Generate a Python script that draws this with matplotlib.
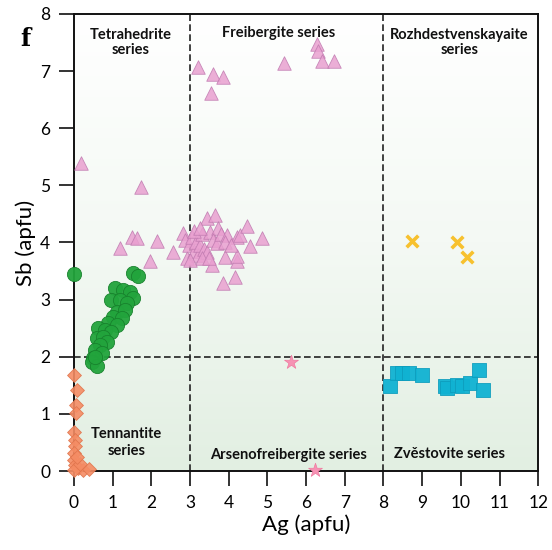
import numpy as np
import matplotlib
matplotlib.use('Agg')
import matplotlib.pyplot as plt
from matplotlib.colors import LinearSegmentedColormap

plt.rcParams['font.family'] = ['Lato', 'DejaVu Sans']

# tetrahedrite-group data (apfu)
tri_ag = [0.18, 1.73, 3.21, 3.59, 3.85, 3.54, 5.43, 6.28, 6.31, 6.41, 6.72,
          1.19, 1.49, 1.62, 2.14, 1.97, 2.57, 2.83, 2.88, 2.91, 2.97, 3.04, 3.10,
          3.15, 3.20, 3.26, 3.30, 3.35, 3.43, 3.43, 3.65, 3.52, 3.72, 3.60, 3.70,
          3.80, 3.96, 4.21, 4.29, 4.47, 4.85, 4.55, 3.90, 4.21, 4.21, 3.56, 4.16,
          3.86, 3.31, 3.00, 3.10, 3.50, 3.90, 4.05, 3.25]
tri_sb = [5.39, 4.97, 7.07, 6.95, 6.90, 6.62, 7.15, 7.48, 7.36, 7.18, 7.18,
          3.90, 4.10, 4.07, 4.02, 3.67, 3.84, 4.16, 4.05, 3.72, 3.95, 4.10, 3.85,
          4.00, 3.78, 3.96, 4.15, 3.88, 3.84, 4.43, 4.48, 4.19, 4.26, 4.05, 3.99,
          4.15, 4.13, 4.10, 4.13, 4.28, 4.08, 3.93, 3.75, 3.67, 3.77, 3.61, 3.40,
          3.29, 3.73, 3.70, 4.20, 3.72, 4.00, 3.95, 4.25]

circ_ag = [0.00, 1.53, 1.66, 1.06, 1.28, 1.45, 1.52, 0.97, 1.19, 1.36, 1.10, 1.32,
           1.02, 1.23, 0.89, 1.10, 0.63, 0.80, 0.97, 0.59, 0.76, 0.85, 0.67, 0.54,
           0.72, 0.50, 0.46, 0.59, 0.54]
circ_sb = [3.44, 3.46, 3.41, 3.20, 3.17, 3.14, 3.02, 2.99, 2.99, 2.94, 2.79, 2.82,
           2.70, 2.67, 2.59, 2.56, 2.50, 2.47, 2.44, 2.32, 2.35, 2.26, 2.21, 2.12,
           2.06, 1.97, 1.91, 1.83, 2.00]

dia_ag = [0.00, 0.07, 0.05, 0.05, 0.00, 0.03, 0.03, 0.00, 0.00, 0.03, 0.11, 0.24,
          0.40, 0.00, 0.15, 0.08]
dia_sb = [1.68, 1.42, 1.16, 1.01, 0.69, 0.54, 0.43, 0.31, 0.19, 0.11, 0.05, 0.02,
          0.04, 0.02, 0.12, 0.25]

sq_ag = [8.17, 8.34, 8.47, 8.65, 8.99, 9.59, 9.64, 9.91, 10.03, 10.24, 10.46, 10.58]
sq_sb = [1.48, 1.71, 1.71, 1.71, 1.68, 1.49, 1.46, 1.51, 1.49, 1.54, 1.76, 1.41]

x_ag = [8.75, 9.90, 10.15]
x_sb = [4.02, 4.00, 3.75]

star_ag = [5.61, 6.23]
star_sb = [1.90, 0.01]

fig = plt.figure(figsize=(5.52, 5.5), dpi=100)
ax = fig.add_axes([0.134, 0.1436, 0.841, 0.831])

# background gradient white -> pale green
cmap = LinearSegmentedColormap.from_list('bg', ['#e2efe2', '#f4f9f4', '#ffffff'])
grad = np.linspace(0, 1, 256).reshape(-1, 1)
ax.imshow(grad, extent=[0, 12, 0, 8], origin='lower', aspect='auto', cmap=cmap, zorder=0)

for xv in [3, 8]:
    ax.axvline(xv, color='#222222', ls=(0, (4, 2)), lw=1.2, zorder=1)
ax.axhline(2, color='#222222', ls=(0, (4, 2)), lw=1.2, zorder=1)

ax.scatter(tri_ag, tri_sb, marker='^', s=95, c='#e9a0d0', edgecolors='#c07ab0',
           linewidths=0.6, alpha=0.85, zorder=3, clip_on=False)
ax.scatter(circ_ag, circ_sb, marker='o', s=105, c='#22a43c', edgecolors='#17802c',
           linewidths=0.6, alpha=0.95, zorder=3, clip_on=False)
ax.scatter(dia_ag, dia_sb, marker='D', s=50, c='#f58c64', edgecolors='#e0744c',
           linewidths=0.6, alpha=0.9, zorder=3, clip_on=False)
ax.scatter(sq_ag, sq_sb, marker='s', s=95, c='#10b2d2', edgecolors='#0d9cbc',
           linewidths=0.6, alpha=0.95, zorder=3, clip_on=False)
ax.scatter(x_ag, x_sb, marker='x', s=70, c='#f7c12e', linewidths=2.6, zorder=3)
ax.scatter(star_ag, star_sb, marker='*', s=110, c='#f692b4', edgecolors='#f07aa0',
           linewidths=0.5, zorder=3, clip_on=False)

lab = dict(fontsize=10.5, fontweight='bold', ha='center', va='center', color='#111111', zorder=4)
ax.text(1.47, 7.5, 'Tetrahedrite\nseries', linespacing=1.15, **lab)
ax.text(5.28, 7.67, 'Freibergite series', **lab)
ax.text(9.96, 7.5, 'Rozhdestvenskayaite\nseries', linespacing=1.15, **lab)
ax.text(1.35, 0.5, 'Tennantite\nseries', linespacing=1.3, **lab)
ax.text(5.54, 0.28, 'Arsenofreibergite series', **lab)
ax.text(9.72, 0.29, 'Zvěstovite series', **lab)

fig.text(0.045, 0.93, 'f', fontsize=17, fontweight='bold', family='DejaVu Serif',
         ha='center', va='center')

ax.set_xlim(0, 12)
ax.set_ylim(0, 8)
ax.set_xticks(range(0, 13))
ax.set_yticks(range(0, 9))
ax.tick_params(direction='out', length=11, width=1.2, labelsize=12.5, pad=6, color='#111111')
for sp in ax.spines.values():
    sp.set_linewidth(1.4)
    sp.set_color('#111111')
ax.set_xlabel('Ag (apfu)', fontsize=16, labelpad=3)
ax.set_ylabel('Sb (apfu)', fontsize=16, labelpad=3)

fig.savefig('out.png', dpi=100)
